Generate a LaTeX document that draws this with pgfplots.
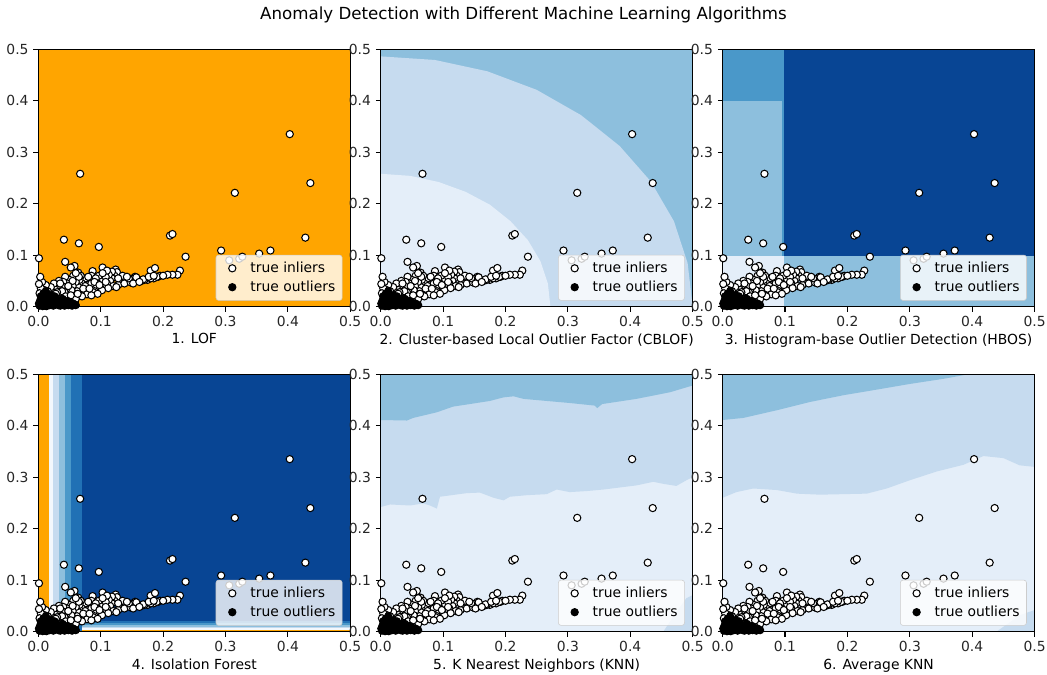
\documentclass[border=0pt]{standalone}
\usepackage{fontspec}
\setmainfont{DejaVu Sans}
\usepackage{pgfplots}
\usepackage{pgfplotstable}
\pgfplotsset{compat=1.18}

\definecolor{mplorange}{RGB}{255,165,0}
\definecolor{bw}{RGB}{243,248,253}
\definecolor{b0}{RGB}{228,238,249}
\definecolor{b1}{RGB}{198,219,239}
\definecolor{b2}{RGB}{141,191,221}
\definecolor{b3}{RGB}{74,152,201}
\definecolor{b4}{RGB}{33,113,181}
\definecolor{b5}{RGB}{8,69,148}
\definecolor{legborder}{RGB}{204,204,204}

\pgfplotstableread{
x y
0.403 0.335
0.067 0.258
0.315 0.221
0.436 0.240
0.211 0.138
0.215 0.141
0.041 0.130
0.065 0.123
0.097 0.116
0.293 0.109
0.428 0.134
0.236 0.097
0.354 0.103
0.372 0.109
0.306 0.090
0.322 0.093
0.327 0.097
0.001 0.094
0.043 0.087
0.058 0.079
0.052 0.076
0.064 0.066
0.087 0.069
0.103 0.076
0.124 0.072
0.126 0.067
0.180 0.070
0.187 0.075
0.227 0.070
0.223 0.062
0.215 0.062
0.207 0.062
0.192 0.058
0.195 0.060
0.185 0.055
0.175 0.052
0.165 0.050
0.160 0.052
0.155 0.058
0.150 0.054
0.145 0.050
0.140 0.052
0.135 0.048
0.130 0.046
0.122 0.060
0.118 0.055
0.115 0.050
0.110 0.045
0.105 0.040
0.100 0.052
0.100 0.035
0.095 0.045
0.092 0.038
0.090 0.030
0.085 0.060
0.083 0.050
0.080 0.042
0.078 0.033
0.075 0.055
0.073 0.028
0.070 0.045
0.068 0.060
0.066 0.052
0.064 0.038
0.062 0.030
0.060 0.048
0.058 0.025
0.056 0.060
0.055 0.040
0.053 0.032
0.050 0.052
0.048 0.022
0.046 0.045
0.045 0.035
0.043 0.058
0.042 0.028
0.040 0.048
0.038 0.040
0.036 0.020
0.035 0.032
0.033 0.050
0.032 0.025
0.030 0.040
0.028 0.018
0.027 0.033
0.025 0.045
0.024 0.028
0.022 0.015
0.020 0.038
0.019 0.025
0.017 0.012
0.015 0.030
0.014 0.020
0.012 0.042
0.010 0.032
0.008 0.022
0.006 0.048
0.004 0.036
0.003 0.058
0.002 0.026
0.001 0.044
0.118 0.068
0.113 0.062
0.108 0.058
0.097 0.060
0.092 0.055
0.120 0.040
0.128 0.042
0.138 0.045
0.148 0.047
0.158 0.050
0.170 0.052
0.180 0.055
0.190 0.058
0.200 0.060
0.125 0.038
0.112 0.036
0.102 0.032
0.088 0.028
0.078 0.024
0.068 0.021
0.058 0.018
0.046 0.015
0.135 0.060
0.145 0.055
0.157 0.057
0.168 0.053
0.177 0.058
0.185 0.060
0.110 0.070
0.103 0.065
0.085 0.045
0.075 0.040
0.065 0.058
0.055 0.050
0.048 0.040
0.038 0.030
0.030 0.028
0.025 0.020
0.015 0.010
0.035 0.045
0.060 0.065
0.080 0.058
0.090 0.048
0.095 0.025
0.085 0.022
0.070 0.020
0.060 0.015
0.050 0.012
0.040 0.010
0.030 0.010
0.020 0.008
0.010 0.005
0.005 0.010
0.012 0.018
0.018 0.020
0.022 0.022
0.028 0.025
0.034 0.015
0.044 0.020
0.052 0.022
0.063 0.025
0.072 0.035
0.082 0.035
0.098 0.042
0.108 0.048
0.128 0.055
0.142 0.058
0.152 0.045
0.162 0.048
}\inliers

\pgfplotstableread{
x y
0.002 0.002
0.005 0.004
0.008 0.006
0.010 0.002
0.012 0.008
0.014 0.004
0.016 0.010
0.018 0.003
0.020 0.012
0.022 0.006
0.024 0.002
0.026 0.010
0.028 0.005
0.030 0.014
0.032 0.003
0.034 0.008
0.036 0.012
0.038 0.004
0.040 0.007
0.042 0.002
0.044 0.010
0.046 0.005
0.048 0.003
0.050 0.008
0.052 0.004
0.054 0.002
0.003 0.012
0.006 0.016
0.009 0.014
0.004 0.020
0.011 0.018
0.015 0.016
0.019 0.007
0.023 0.014
0.027 0.016
0.031 0.009
0.035 0.002
0.039 0.015
0.043 0.006
0.047 0.011
0.056 0.006
0.060 0.003
0.001 0.006
0.007 0.001
0.013 0.001
0.008 0.025
0.014 0.024
0.020 0.022
0.026 0.020
0.012 0.030
}\outliers

\pgfplotsset{
  panel/.style={
    scale only axis, width=224.6pt, height=185.4pt,
    anchor=south west,
    xmin=0, xmax=0.5, ymin=0, ymax=0.5,
    xtick={0,0.1,0.2,0.3,0.4,0.5}, ytick={0,0.1,0.2,0.3,0.4,0.5},
    tick align=outside, tick pos=left, major tick length=3.5pt,
    tick style={black, line width=0.8pt},
    axis line style={line width=0.8pt},
    axis on top,
    /pgf/number format/assume math mode=true,
    /pgf/number format/fixed, /pgf/number format/fixed zerofill,
    /pgf/number format/precision=1,
    ticklabel style={font=\fontsize{10}{12}\selectfont, text=black!85},
    label style={font=\fontsize{10}{12}\selectfont},
    xlabel style={yshift=2pt},
    legend style={at={(rel axis cs:0.975,0.023)}, anchor=south east,
      fill=white, fill opacity=0.8, text opacity=1, draw=legborder, draw opacity=1,
      rounded corners=2pt, font=\fontsize{10}{12}\selectfont,
      inner xsep=3pt, inner ysep=3pt, row sep=0.5pt},
    legend cell align=left,
    legend image code/.code={\path (0cm,0cm) (0.68cm,0cm);
      \draw[##1, opacity=1] plot coordinates {(0.3cm,0cm)};},
  },
  inl/.style={only marks, mark=*, mark size=2.6pt, mark options={fill=white, draw=black, line width=0.75pt}},
  outl/.style={only marks, mark=*, mark size=2.6pt, mark options={fill=black, draw=black, line width=0.75pt}},
  bg/.style={draw=none, fill=#1, forget plot},
}

\newcommand{\scatterpts}{%
  \addplot[inl] table {\inliers};
  \addlegendentry{true inliers}
  \addplot[outl] table {\outliers};
  \addlegendentry{true outliers}
}

\begin{document}
\begin{tikzpicture}
\path[use as bounding box] (0,0) rectangle (753.84pt,486pt);
\node[font=\fontsize{12}{14}\selectfont] at (376.9pt,475.4pt) {Anomaly Detection with Different Machine Learning Algorithms};

% 1. LOF
\begin{axis}[panel, at={(27.6pt,265.2pt)}, xlabel={1. LOF}]
\addplot[bg=mplorange] coordinates {(0,0) (0.5,0) (0.5,0.5) (0,0.5)} --cycle;
\addplot[bg=b3] coordinates {(0.050,0) (0.066,0) (0.062,0.003) (0.054,0.003)} --cycle;
\scatterpts
\end{axis}

% 2. CBLOF
\begin{axis}[panel, at={(274.1pt,265.2pt)}, xlabel={2. Cluster-based Local Outlier Factor (CBLOF)}]
\addplot[bg=b2] coordinates {(0,0) (0.5,0) (0.5,0.5) (0,0.5)} --cycle;
\addplot[bg=b1] coordinates {(0,0) (0.5,0) (0.492,0.0844) (0.470,0.166) (0.433,0.243) (0.383,0.312) (0.321,0.372) (0.25,0.421) (0.171,0.457) (0.087,0.479) (0,0.486)} --cycle;
\addplot[bg=b0] coordinates {(0,0) (0.272,0) (0.268,0.0448) (0.256,0.0882) (0.236,0.129) (0.208,0.166) (0.175,0.198) (0.136,0.223) (0.093,0.242) (0.047,0.254) (0,0.258)} --cycle;
\scatterpts
\end{axis}

% 3. HBOS
\begin{axis}[panel, at={(520.3pt,265.2pt)}, xlabel={3. Histogram-base Outlier Detection (HBOS)}]
\addplot[bg=b5] coordinates {(0,0) (0.5,0) (0.5,0.5) (0,0.5)} --cycle;
\addplot[bg=b2] coordinates {(0,0) (0.5,0) (0.5,0.099) (0,0.099)} --cycle;
\addplot[bg=b3] coordinates {(0,0.099) (0.098,0.099) (0.098,0.5) (0,0.5)} --cycle;
\addplot[bg=b2] coordinates {(0,0.099) (0.0945,0.099) (0.0945,0.400) (0,0.400)} --cycle;
\addplot[bg=b0] coordinates {(0,0) (0.098,0) (0.098,0.099) (0,0.099)} --cycle;
\scatterpts
\end{axis}

% 4. Isolation Forest
\begin{axis}[panel, at={(27.6pt,31.2pt)}, xlabel={4. Isolation Forest}]
\addplot[bg=b5] coordinates {(0,0) (0.5,0) (0.5,0.5) (0,0.5)} --cycle;
\addplot[bg=b4] coordinates {(0,0) (0.5,0) (0.5,0.021) (0,0.021)} --cycle;
\addplot[bg=b3] coordinates {(0,0) (0.5,0) (0.5,0.017) (0,0.017)} --cycle;
\addplot[bg=b2] coordinates {(0,0) (0.5,0) (0.5,0.013) (0,0.013)} --cycle;
\addplot[bg=b1] coordinates {(0,0) (0.5,0) (0.5,0.010) (0,0.010)} --cycle;
\addplot[bg=bw] coordinates {(0,0) (0.5,0) (0.5,0.007) (0,0.007)} --cycle;
\addplot[bg=mplorange] coordinates {(0.045,0) (0.5,0) (0.5,0.004) (0.045,0.004)} --cycle;
\addplot[bg=b4] coordinates {(0,0) (0.070,0) (0.070,0.5) (0,0.5)} --cycle;
\addplot[bg=b3] coordinates {(0,0) (0.052,0) (0.052,0.5) (0,0.5)} --cycle;
\addplot[bg=b2] coordinates {(0,0) (0.043,0) (0.043,0.5) (0,0.5)} --cycle;
\addplot[bg=b1] coordinates {(0,0) (0.033,0) (0.033,0.5) (0,0.5)} --cycle;
\addplot[bg=bw] coordinates {(0,0) (0.024,0) (0.024,0.5) (0,0.5)} --cycle;
\addplot[bg=mplorange] coordinates {(0,0) (0.017,0) (0.017,0.5) (0,0.5)} --cycle;
\scatterpts
\end{axis}

% 5. KNN
\begin{axis}[panel, at={(274.1pt,31.2pt)}, xlabel={5. K Nearest Neighbors (KNN)}]
\addplot[bg=b0] coordinates {(0,0) (0.5,0) (0.5,0.5) (0,0.5)} --cycle;
\addplot[bg=b1] coordinates {(0,0.242) (0.015,0.247) (0.047,0.245) (0.068,0.249) (0.079,0.245) (0.090,0.239) (0.095,0.262) (0.138,0.269) (0.159,0.270) (0.181,0.260) (0.197,0.255) (0.207,0.262) (0.234,0.265) (0.266,0.267) (0.282,0.276) (0.303,0.271) (0.330,0.273) (0.357,0.276) (0.410,0.284) (0.437,0.291) (0.453,0.287) (0.474,0.283) (0.490,0.294) (0.5,0.300) (0.5,0.5) (0,0.5)} --cycle;
\addplot[bg=b2] coordinates {(0,0.411) (0.042,0.410) (0.052,0.415) (0.090,0.426) (0.116,0.437) (0.143,0.442) (0.175,0.448) (0.197,0.455) (0.213,0.457) (0.229,0.452) (0.266,0.448) (0.303,0.444) (0.343,0.439) (0.347,0.434) (0.355,0.442) (0.410,0.452) (0.464,0.465) (0.5,0.478) (0.5,0.5) (0,0.5)} --cycle;
\addplot[bg=b1] coordinates {(0.453,0) (0.474,0.039) (0.490,0.065) (0.5,0.071) (0.5,0)} --cycle;
\scatterpts
\end{axis}

% 6. Average KNN
\begin{axis}[panel, at={(520.3pt,31.2pt)}, xlabel={6. Average KNN}]
\addplot[bg=b0] coordinates {(0,0) (0.5,0) (0.5,0.5) (0,0.5)} --cycle;
\addplot[bg=b1] coordinates {(0,0.260) (0.022,0.271) (0.049,0.278) (0.087,0.275) (0.119,0.268) (0.156,0.266) (0.193,0.267) (0.231,0.268) (0.263,0.278) (0.300,0.294) (0.343,0.311) (0.386,0.324) (0.418,0.341) (0.450,0.337) (0.476,0.323) (0.5,0.320) (0.5,0.5) (0,0.5)} --cycle;
\addplot[bg=b2] coordinates {(0,0.411) (0.033,0.415) (0.087,0.430) (0.140,0.446) (0.193,0.459) (0.247,0.470) (0.300,0.481) (0.354,0.491) (0.395,0.5) (0,0.5)} --cycle;
\addplot[bg=b1] coordinates {(0.439,0) (0.476,0.032) (0.5,0.042) (0.5,0)} --cycle;
\scatterpts
\end{axis}
\end{tikzpicture}
\end{document}
